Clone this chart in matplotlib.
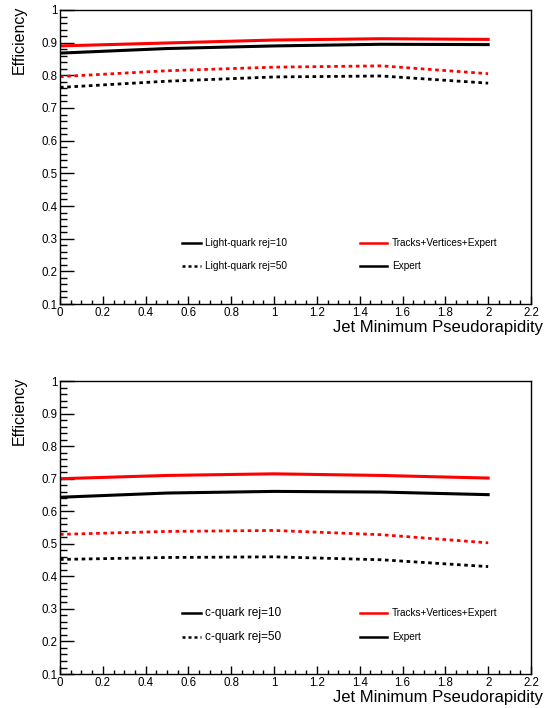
import matplotlib
matplotlib.use("Agg")
import matplotlib.pyplot as plt
from matplotlib.ticker import MultipleLocator, FuncFormatter

plt.rcParams['font.family'] = ['Liberation Sans', 'DejaVu Sans']

eta = [0.0, 0.5, 1.0, 1.5, 2.0]

# light-quark panel
light_tve_10 = [0.890, 0.899, 0.908, 0.912, 0.910]
light_exp_10 = [0.868, 0.882, 0.890, 0.895, 0.894]
light_tve_50 = [0.796, 0.814, 0.825, 0.829, 0.805]
light_exp_50 = [0.763, 0.782, 0.795, 0.798, 0.776]

# c-quark panel
c_tve_10 = [0.700, 0.710, 0.715, 0.710, 0.702]
c_exp_10 = [0.643, 0.656, 0.661, 0.659, 0.651]
c_tve_50 = [0.529, 0.538, 0.541, 0.528, 0.503]
c_exp_50 = [0.452, 0.458, 0.460, 0.451, 0.430]

dot = (0, (1.3, 1.3))

def panel(ax, tve10, exp10, tve50, exp50, name, lfs):
    ax.plot(eta, tve10, color="red", lw=2.2)
    ax.plot(eta, exp10, color="black", lw=2.2)
    ax.plot(eta, tve50, color="red", lw=2.0, ls=dot)
    ax.plot(eta, exp50, color="black", lw=2.0, ls=dot)
    ax.set_xlim(0, 2.2)
    ax.set_ylim(0.1, 1.0)
    ax.xaxis.set_major_locator(MultipleLocator(0.2))
    ax.xaxis.set_minor_locator(MultipleLocator(0.05))
    ax.yaxis.set_major_locator(MultipleLocator(0.1))
    ax.yaxis.set_minor_locator(MultipleLocator(0.02))
    ax.tick_params(axis="both", which="both", direction="in", top=False, right=False,
                   labelsize=8.3, width=1)
    ax.tick_params(axis="y", which="major", length=10, pad=2)
    ax.tick_params(axis="y", which="minor", length=4.8)
    ax.tick_params(axis="x", which="major", length=6, pad=2)
    ax.tick_params(axis="x", which="minor", length=2.6)
    ax.xaxis.set_major_formatter(FuncFormatter(lambda v, p: f"{v:g}"))
    ax.yaxis.set_major_formatter(FuncFormatter(lambda v, p: f"{v:g}"))
    for s in ax.spines.values():
        s.set_linewidth(1)
    ax.annotate("Jet Minimum Pseudorapidity", xy=(1, 0), xycoords="axes fraction",
                xytext=(12, -23), textcoords="offset pixels", ha="right", va="center",
                fontsize=12)
    ax.annotate("Efficiency", xy=(0, 1), xycoords="axes fraction",
                xytext=(-41, 4), textcoords="offset pixels", ha="center", va="top",
                rotation=90, fontsize=11.5)
    # legend, ROOT style
    rows = [0.207, 0.128]
    ax.plot([0.259, 0.299], [rows[0]] * 2, color="black", lw=1.8, transform=ax.transAxes)
    ax.plot([0.259, 0.299], [rows[1]] * 2, color="black", lw=1.8, ls=(0, (1.2, 1.2)),
            transform=ax.transAxes)
    ax.text(0.308, rows[0], name + " rej=10", transform=ax.transAxes, va="center", fontsize=lfs)
    ax.text(0.308, rows[1], name + " rej=50", transform=ax.transAxes, va="center", fontsize=lfs)
    ax.plot([0.637, 0.694], [rows[0]] * 2, color="red", lw=1.8, transform=ax.transAxes)
    ax.plot([0.637, 0.694], [rows[1]] * 2, color="black", lw=1.8, transform=ax.transAxes)
    ax.text(0.705, rows[0], "Tracks+Vertices+Expert", transform=ax.transAxes, va="center", fontsize=7.2)
    ax.text(0.705, rows[1], "Expert", transform=ax.transAxes, va="center", fontsize=7.2)

fig = plt.figure(figsize=(5.47, 7.08), dpi=100)
ax1 = fig.add_axes([0.1097, 0.5706, 0.861, 0.4153])
ax2 = fig.add_axes([0.1097, 0.048, 0.861, 0.4138])
panel(ax1, light_tve_10, light_exp_10, light_tve_50, light_exp_50, "Light-quark", 7.3)
panel(ax2, c_tve_10, c_exp_10, c_tve_50, c_exp_50, "c-quark", 8.6)

fig.savefig("out.png", dpi=100)
